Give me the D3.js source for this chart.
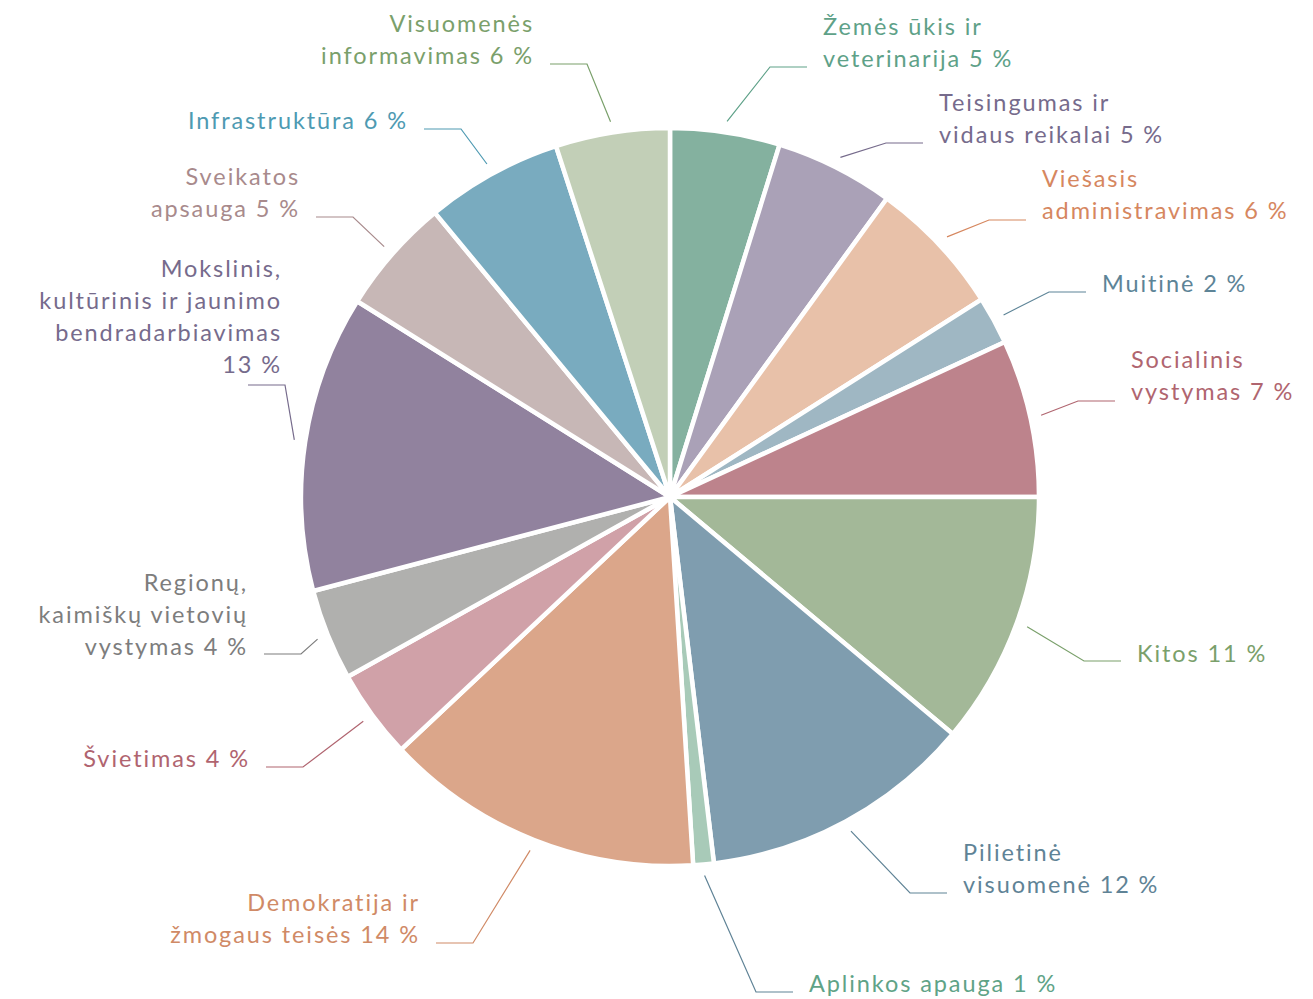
<!DOCTYPE html>
<html>
<head>
<meta charset="utf-8">
<script src="https://cdn.jsdelivr.net/npm/d3@7"></script>
<style>
  body { margin: 0; background: #fff; }
  text { font-family: Lato, "Open Sans", sans-serif; font-size: 23.5px; font-weight: 400; letter-spacing: 1.9px; }
</style>
</head>
<body>
<div id="pie-chart"></div>
<script>
// Slice names (label lines) in drawing order, clockwise from 12 o'clock
const labels = [
    ["Žemės ūkis ir", "veterinarija 5 %"],
    ["Teisingumas ir", "vidaus reikalai 5 %"],
    ["Viešasis", "administravimas 6 %"],
    ["Muitinė 2 %"],
    ["Socialinis", "vystymas 7 %"],
    ["Kitos 11 %"],
    ["Pilietinė", "visuomenė 12 %"],
    ["Aplinkos apauga 1 %"],
    ["Demokratija ir", "žmogaus teisės 14 %"],
    ["Švietimas 4 %"],
    ["Regionų,", "kaimiškų vietovių", "vystymas 4 %"],
    ["Mokslinis,", "kultūrinis ir jaunimo", "bendradarbiavimas", "13 %"],
    ["Sveikatos", "apsauga 5 %"],
    ["Infrastruktūra 6 %"],
    ["Visuomenės", "informavimas 6 %"]
];

// Share of each slice (percent)
const shares = [4.8, 5.2, 6.0, 2.1, 6.9, 11.1, 12.0, 0.9, 14.0, 3.9, 4.0, 13.0, 5.1, 6.0, 5.0];

const sliceColors = ["#84b19f", "#aaa1b7", "#e8c1a9", "#9fb7c3", "#bd838c", "#a3b898", "#7f9daf", "#a8cab8",
    "#dba68a", "#d0a1a8", "#b0b0ae", "#91829e", "#c7b7b6", "#79abbf", "#c2cfb7"];
const textColors = ["#5ea188", "#766b8c", "#d6875f", "#5d8497", "#b0656f", "#7aa06b", "#5f8396", "#5fa387",
    "#d08a66", "#b0646f", "#7d7d7d", "#766b8c", "#a88a8c", "#4e9ab2", "#7aa06b"];
const lineColors = ["#5ea188", "#766b8c", "#d6875f", "#5d8497", "#b0656f", "#7aa06b", "#5f8396", "#5f8396",
    "#d08a66", "#b0646f", "#7d7d7d", "#766b8c", "#a88a8c", "#4e9ab2", "#7aa06b"];

// Label layout: elbow of the leader line, side and baseline of the last text line
const labelLayout = [
    { ex: 770, ey: 67, side: 1, ty: 67 },
    { ex: 886, ey: 143, side: 1, ty: 143 },
    { ex: 989, ey: 220, side: 1, ty: 219 },
    { ex: 1049, ey: 292, side: 1, ty: 292 },
    { ex: 1078, ey: 401, side: 1, ty: 400 },
    { ex: 1084, ey: 661, side: 1, ty: 662 },
    { ex: 910, ey: 893, side: 1, ty: 893 },
    { ex: 756, ey: 992, side: 1, ty: 992 },
    { ex: 473, ey: 943, side: -1, ty: 943 },
    { ex: 303, ey: 767, side: -1, ty: 767 },
    { ex: 301, ey: 654, side: -1, ty: 655 },
    { ex: 285, ey: 385, side: -1, ty: 373, shift: 50 },
    { ex: 353, ey: 217, side: -1, ty: 217 },
    { ex: 461, ey: 129, side: -1, ty: 129 },
    { ex: 587, ey: 64, side: -1, ty: 64 }
];

const width = 1313, height = 999;
const cx = 670, cy = 497, radius = 369;
const lineHeight = 32;

const svg = d3.select("#pie-chart").append("svg")
    .attr("width", width)
    .attr("height", height);

const data = shares.map((v, i) => ({ value: v, lines: labels[i], i: i }));

const pie = d3.pie().sort(null).value(d => d.value);
const arcs = pie(data);

const arc = d3.arc().innerRadius(0).outerRadius(radius);
const outerArc = d3.arc().innerRadius(380).outerRadius(380);

const g = svg.append("g").attr("transform", `translate(${cx},${cy})`);

// Slices with white separators
g.selectAll("path.slice")
    .data(arcs)
    .enter()
    .append("path")
    .attr("class", "slice")
    .attr("d", arc)
    .attr("fill", d => sliceColors[d.data.i])
    .attr("stroke", "#fff")
    .attr("stroke-width", 4.5)
    .attr("stroke-linejoin", "round");

// Leader lines: from just outside the slice, to the elbow, then horizontal
svg.selectAll("polyline.leader")
    .data(arcs)
    .enter()
    .append("polyline")
    .attr("class", "leader")
    .attr("fill", "none")
    .attr("stroke", d => lineColors[d.data.i])
    .attr("stroke-width", 1.2)
    .attr("points", d => {
        const p = outerArc.centroid(d);
        const L = labelLayout[d.data.i];
        return [[p[0] + cx, p[1] + cy], [L.ex, L.ey], [L.ex + L.side * 37, L.ey]].join(" ");
    });

// Text labels
const labelText = svg.selectAll("text.label")
    .data(arcs)
    .enter()
    .append("text")
    .attr("class", "label")
    .attr("fill", d => textColors[d.data.i])
    .attr("text-anchor", d => labelLayout[d.data.i].side > 0 ? "start" : "end")
    .attr("x", d => {
        const L = labelLayout[d.data.i];
        return L.ex + L.side * (37 + 16) + (L.shift || 0);
    })
    .attr("y", d => labelLayout[d.data.i].ty - (d.data.lines.length - 1) * lineHeight);

labelText.each(function (d) {
    const t = d3.select(this);
    const x = t.attr("x");
    d.data.lines.forEach((line, k) => {
        t.append("tspan")
            .attr("x", x)
            .attr("dy", k === 0 ? 0 : lineHeight)
            .text(line);
    });
});
</script>
</body>
</html>
